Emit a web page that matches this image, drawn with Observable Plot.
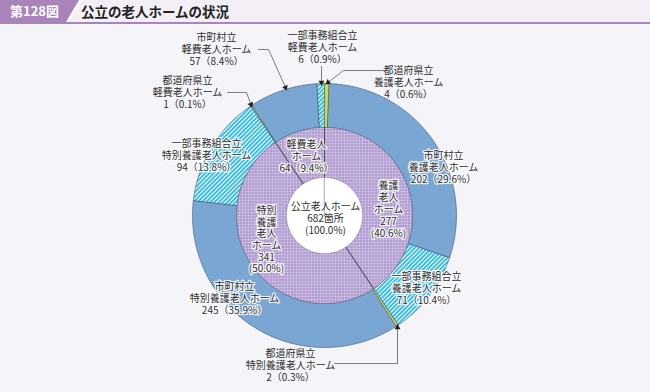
<!DOCTYPE html>
<html><head><meta charset="utf-8">
<script src="https://cdn.jsdelivr.net/npm/d3@7"></script>
<script src="https://cdn.jsdelivr.net/npm/@observablehq/plot@0.6"></script>
<style>
html,body{margin:0;padding:0;background:#f5f5f9;width:650px;height:392px;overflow:hidden;font-family:"Noto Sans CJK JP",sans-serif}
#title{position:relative;height:22px;background:#f4eff7;border-bottom:2px solid #a983b9}
#gap{position:absolute;left:0;top:0;width:82px;height:22px;background:#fff;clip-path:polygon(0 0,100% 0,calc(100% - 13px) 100%,0 100%)}
#badge{position:absolute;left:0;top:0;width:79px;height:22px;background:#a983b9;clip-path:polygon(0 0,100% 0,calc(100% - 13px) 100%,0 100%);color:#fff;font-weight:bold;font-size:13px;line-height:22px;padding-left:10px;box-sizing:border-box}
#ttl{position:absolute;left:81px;top:0;line-height:22px;font-size:13.5px;font-weight:bold;color:#222}
#chart svg{display:block}
</style></head>
<body>
<svg width="0" height="0" style="position:absolute">
  <defs>
    <pattern id="hatch" width="3" height="3" patternUnits="userSpaceOnUse" patternTransform="rotate(45)">
      <rect width="3" height="3" fill="#ffffff"/>
      <rect width="2" height="3" fill="#3cbde2"/>
    </pattern>
    <pattern id="grid" width="3" height="3" patternUnits="userSpaceOnUse">
      <rect width="3" height="3" fill="#d9cdea"/>
      <path d="M0 0.5H3M0.5 0V3" stroke="#a68fca" stroke-width="1"/>
    </pattern>
  </defs>
</svg>
<div id="title"><div id="gap"></div><div id="badge">第128図</div><div id="ttl">公立の老人ホームの状況</div></div>
<div id="chart"></div>
<script>
// ---- data ----
const groups = ["養護老人ホーム", "特別養護老人ホーム", "軽費老人ホーム"];
const groupValues = [277, 341, 64];
const groupPct = ["40.6%", "50.0%", "9.4%"];
const owners = ["都道府県立", "市町村立", "一部事務組合立"];
const ownerValues = [[4, 202, 71], [2, 245, 94], [1, 57, 6]];
const ownerPct = [["0.6%", "29.6%", "10.4%"], ["0.3%", "35.9%", "13.8%"], ["0.1%", "8.4%", "0.9%"]];
const totalLabel = "公立老人ホーム";
const total = 682;
const totalPct = "100.0%";

// ---- layout ----
const W = 650, H = 392, TOP = 24;
const CX = 324, CY = 215;           // ring center (page px)
const R0 = 38, R1 = 88, R2 = 132;   // radii
const FS = 10;
const ownerFill = ["#cbdc48", "#7aa6d3", "url(#hatch)"];
const angle = d3.scaleLinear().domain([0, total]).range([0, 2 * Math.PI]);

function arc(a0, a1, r0, r1, key, fill) {
  const n = Math.max(2, Math.ceil((a1 - a0) / 0.01));
  const pts = [];
  for (let i = 0; i <= n; i++) { const a = a0 + (a1 - a0) * i / n; pts.push({x: r1 * Math.sin(a), y: -r1 * Math.cos(a), key, fill}); }
  for (let i = n; i >= 0; i--) { const a = a0 + (a1 - a0) * i / n; pts.push({x: r0 * Math.sin(a), y: -r0 * Math.cos(a), key, fill}); }
  return pts;
}

const inner = [], outer = [];
let acc = 0, accO = 0;
groups.forEach((g, gi) => {
  inner.push(...arc(angle(acc), angle(acc + groupValues[gi]), R0, R1, "g" + gi, "url(#grid)"));
  acc += groupValues[gi];
  owners.forEach((o, oi) => {
    const v = ownerValues[gi][oi];
    outer.push(...arc(angle(accO), angle(accO + v), R1, R2, `o${gi}-${oi}`, ownerFill[oi]));
    accO += v;
  });
});
const disk = arc(0, 2 * Math.PI, 0, R0, "c", "#ffffff");

// label layout: page-pixel positions of the first line centre
const P = (x, y) => ({x: x - CX, y: y - CY});
const lbl = (gi, oi) => [owners[oi], groups[gi], `${ownerValues[gi][oi]}（${ownerPct[gi][oi]}）`];
const labels = [
  {...P(216, 37), lh: 12, lines: lbl(2, 1)},
  {...P(322, 35), lh: 12, lines: lbl(2, 2)},
  {...P(408, 70), lh: 12, lines: lbl(0, 0)},
  {...P(187, 80), lh: 12, lines: lbl(2, 0)},
  {...P(206, 143), lh: 12, lines: lbl(1, 2), halo: true},
  {...P(443, 155), lh: 12, lines: lbl(0, 1), halo: true},
  {...P(234, 286), lh: 12, lines: lbl(1, 1), halo: true},
  {...P(426, 276), lh: 12, lines: lbl(0, 2), halo: true},
  {...P(290, 353), lh: 12, lines: lbl(1, 0)},
  {...P(306, 144), lh: 12, lines: ["軽費老人", "ホーム", `${groupValues[2]}（${groupPct[2]}）`], halo: true},
  {...P(388, 185), lh: 12, lines: ["養護", "老人", "ホーム", `${groupValues[0]}`, `(${groupPct[0]})`], halo: true},
  {...P(266, 210), lh: 11.6, lines: ["特別", "養護", "老人", "ホーム", `${groupValues[1]}`, `(${groupPct[1]})`], halo: true},
  {...P(325, 206), lh: 12, lines: [totalLabel, `${total}箇所`, `(${totalPct})`]}
];
// block centre for middle-anchored multi-line text
labels.forEach(L => { L.cy = L.y + (L.lines.length - 1) * L.lh / 2; L.t = L.lines.join("\n"); });

// leader lines (page px); last point is the arrow tip
const leaders = [
  [[258, 49], [268, 49], [285, 87]],
  [[321, 66], [321, 82]],
  [[383, 70], [343, 70], [327.5, 82]],
  [[227, 92], [246, 92], [250.5, 104]],
  [[334, 363], [397, 363], [397, 327]]
];
const leaderPts = [], tips = [];
leaders.forEach((l, k) => {
  l.forEach(([x, y]) => leaderPts.push({...P(x, y), k}));
  const [x1, y1] = l[l.length - 2], [x2, y2] = l[l.length - 1];
  tips.push({...P(x2, y2), rot: Math.atan2(x2 - x1, -(y2 - y1)) * 180 / Math.PI});
});
const sep = [];
acc = 0;
groupValues.forEach((v, gi) => {
  const a = angle(acc);
  sep.push({x: R0 * Math.sin(a), y: -R0 * Math.cos(a), k: gi}, {x: R1 * Math.sin(a), y: -R1 * Math.cos(a), k: gi});
  acc += v;
});

const textMarks = [12, 11.6].flatMap(lh => [true, false].map(halo => {
  const sub = labels.filter(L => L.lh === lh && !!L.halo === halo);
  return Plot.text(sub, {x: "x", y: "cy", text: "t", fontSize: FS, lineHeight: lh / FS,
    fontFamily: "Noto Sans CJK JP", fill: "#2e2e2e",
    ...(halo ? {stroke: "white", strokeWidth: 2.5, strokeOpacity: 0.9} : {})});
}));

const plot = Plot.plot({
  width: W, height: H - TOP, margin: 0,
  x: {domain: [-CX, W - CX], range: [0, W], axis: null},
  y: {domain: [TOP - CY, H - CY], range: [0, H - TOP], axis: null},
  color: {type: "identity"},
  style: {background: "transparent"},
  marks: [
    Plot.line(outer, {x: "x", y: "y", z: "key", fill: "fill", stroke: "#3f5470", strokeWidth: 0.6, curve: "linear-closed"}),
    Plot.line(inner, {x: "x", y: "y", z: "key", fill: "fill", stroke: "#5a5070", strokeWidth: 0.5, curve: "linear-closed"}),
    Plot.line(sep, {x: "x", y: "y", z: "k", stroke: "#3a3a3a", strokeWidth: 0.7}),
    Plot.line(disk, {x: "x", y: "y", z: "key", fill: "fill", stroke: "#8a80a0", strokeWidth: 0.4, curve: "linear-closed"}),
    Plot.line(leaderPts, {x: "x", y: "y", z: "k", stroke: "#707070", strokeWidth: 0.9}),
    Plot.dot(tips, {x: "x", y: "y", symbol: "triangle", r: 2.2, fill: "#222", rotate: "rot"}),
    ...textMarks
  ]
});
document.getElementById("chart").appendChild(plot);
</script>
</body></html>
